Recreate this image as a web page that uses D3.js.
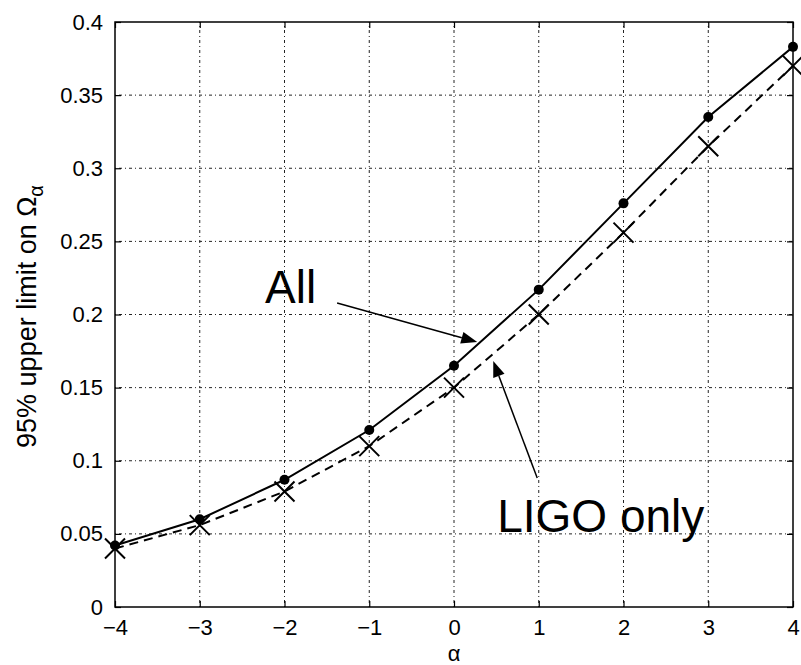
<!DOCTYPE html>
<html>
<head>
<meta charset="utf-8">
<script src="https://cdn.jsdelivr.net/npm/d3@7"></script>
<style>
  html, body { margin: 0; padding: 0; background: #fff; }
  svg { display: block; }
  text { font-family: "Liberation Sans", Arial, Helvetica, sans-serif; }
</style>
</head>
<body>
<svg id="chart" width="801" height="665"></svg>
<script>
const alphas = [-4, -3, -2, -1, 0, 1, 2, 3, 4];
const allValues  = [0.042, 0.060, 0.087, 0.121, 0.165, 0.217, 0.276, 0.335, 0.383];
const ligoValues = [0.040, 0.056, 0.079, 0.110, 0.150, 0.200, 0.256, 0.315, 0.370];
const xTicks = [-4, -3, -2, -1, 0, 1, 2, 3, 4];
const yTicks = [0, 0.05, 0.1, 0.15, 0.2, 0.25, 0.3, 0.35, 0.4];
const yTickLabels = ["0", "0.05", "0.1", "0.15", "0.2", "0.25", "0.3", "0.35", "0.4"];
const annotations = [
  { text: "All", tx: -2.229, ty: 0.2079, x1: -1.379, y1: 0.2079, x2: 0.274, y2: 0.1812 },
  { text: "LIGO only", tx: 0.510, ty: 0.0513, x1: 0.982, y1: 0.0882, x2: 0.463, y2: 0.1682 }
];

const W = 801, H = 665;
const margin = { left: 115, right: 8, top: 22, bottom: 58 };
const svg = d3.select("#chart");
const x = d3.scaleLinear().domain([-4, 4]).range([margin.left, W - margin.right]);
const y = d3.scaleLinear().domain([0, 0.4]).range([H - margin.bottom, margin.top]);
const x0 = x.range()[0], x1 = x.range()[1], y0 = y.range()[0], y1 = y.range()[1];

// grid
const grid = svg.append("g").attr("stroke", "#222").attr("stroke-width", 1)
  .attr("stroke-dasharray", "1,3,3,3");
grid.selectAll(".gx").data(xTicks.slice(1, -1)).join("line")
  .attr("x1", d => x(d)).attr("x2", d => x(d)).attr("y1", y0).attr("y2", y1);
grid.selectAll(".gy").data(yTicks.slice(1, -1)).join("line")
  .attr("y1", d => y(d)).attr("y2", d => y(d)).attr("x1", x0).attr("x2", x1);

// axes
const fmtY = d => yTickLabels[yTicks.indexOf(d)];
const axB = d3.axisBottom(x).tickValues(xTicks).tickSizeInner(-6).tickSizeOuter(0).tickPadding(12)
  .tickFormat(d => d < 0 ? "\u2212" + Math.abs(d) : String(d));
const axL = d3.axisLeft(y).tickValues(yTicks).tickSizeInner(-6).tickSizeOuter(0).tickPadding(12)
  .tickFormat(fmtY);
const axT = d3.axisTop(x).tickValues(xTicks).tickSizeInner(-6).tickSizeOuter(0).tickFormat("");
const axR = d3.axisRight(y).tickValues(yTicks).tickSizeInner(-6).tickSizeOuter(0).tickFormat("");

function style(g) {
  g.select(".domain").remove();
  g.selectAll("line").attr("stroke", "#000").attr("stroke-width", 1.2);
  g.selectAll("text").attr("fill", "#000").attr("font-size", 22)
    .style("font-family", '"Liberation Sans", Arial, sans-serif');
}
svg.append("g").attr("transform", `translate(0,${y0})`).call(axB).call(style);
svg.append("g").attr("transform", `translate(${x0},0)`).call(axL).call(style);
svg.append("g").attr("transform", `translate(0,${y1})`).call(axT).call(style);
svg.append("g").attr("transform", `translate(${x1},0)`).call(axR).call(style);

// frame
svg.append("rect").attr("x", x0).attr("y", y1).attr("width", x1 - x0).attr("height", y0 - y1)
  .attr("fill", "none").attr("stroke", "#000").attr("stroke-width", 1.5);

// axis labels
svg.append("text").attr("x", (x0 + x1) / 2).attr("y", 661).attr("text-anchor", "middle")
  .attr("font-size", 22).text("\u03B1");
const yl = svg.append("text")
  .attr("transform", `translate(36,${(y0 + y1) / 2 + 2}) rotate(-90)`)
  .attr("text-anchor", "middle").attr("font-size", 27);
yl.append("tspan").text("95% upper limit on \u03A9");
yl.append("tspan").attr("font-size", 20).attr("dy", 7).text("\u03B1");

// lines
const line = (vals) => d3.line().x((d, i) => x(alphas[i])).y(d => y(d))(vals);
svg.append("path").attr("d", line(ligoValues)).attr("fill", "none").attr("stroke", "#000")
  .attr("stroke-width", 2).attr("stroke-dasharray", "9,6");
svg.append("path").attr("d", line(allValues)).attr("fill", "none").attr("stroke", "#000")
  .attr("stroke-width", 2);

// markers
svg.append("g").selectAll("circle").data(allValues).join("circle")
  .attr("cx", (d, i) => x(alphas[i])).attr("cy", d => y(d)).attr("r", 5).attr("fill", "#000");
const s = 10;
svg.append("g").selectAll("path").data(ligoValues).join("path")
  .attr("d", (d, i) => {
    const cx = x(alphas[i]), cy = y(d);
    return `M${cx - s},${cy - s}L${cx + s},${cy + s}M${cx - s},${cy + s}L${cx + s},${cy - s}`;
  })
  .attr("stroke", "#000").attr("stroke-width", 2).attr("fill", "none");

// annotations
const ann = svg.append("g");
annotations.forEach(a => {
  ann.append("text").attr("x", x(a.tx)).attr("y", y(a.ty)).attr("font-size", 46)
    .attr("fill", "#000").text(a.text);
  const X1 = x(a.x1), Y1 = y(a.y1), X2 = x(a.x2), Y2 = y(a.y2);
  const ang = Math.atan2(Y2 - Y1, X2 - X1);
  const L = 16, Wd = 6;
  const bx = X2 - L * Math.cos(ang), by = Y2 - L * Math.sin(ang);
  ann.append("line").attr("x1", X1).attr("y1", Y1).attr("x2", bx).attr("y2", by)
    .attr("stroke", "#000").attr("stroke-width", 1.5);
  const px = -Math.sin(ang), py = Math.cos(ang);
  ann.append("path")
    .attr("d", `M${X2},${Y2}L${bx + Wd * px},${by + Wd * py}L${bx - Wd * px},${by - Wd * py}Z`)
    .attr("fill", "#000");
});
</script>
</body>
</html>
